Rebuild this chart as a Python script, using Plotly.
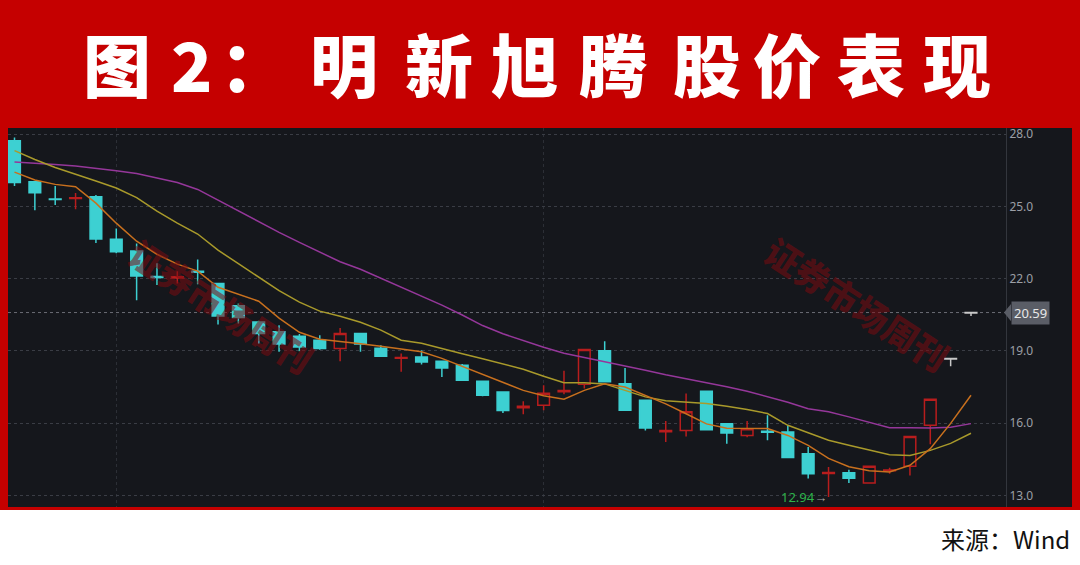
import plotly.graph_objects as go

# ---------------- data ----------------
opens = [27.72, 26.02, 25.30, 25.32, 25.40, 23.63, 23.15, 22.09, 22.02, 22.30,
         21.80, 20.87, 20.20, 19.79, 19.61, 19.44, 19.10, 19.72, 19.11, 18.69,
         18.75, 18.57, 18.40, 17.74, 17.29, 16.64, 16.74, 17.30, 17.61, 19.00,
         17.64, 16.95, 15.64, 15.70, 17.32, 15.98, 15.49, 15.66, 15.63, 14.73,
         13.91, 13.94, 13.52, 14.02, 14.21, 15.91, 18.66, 20.57]
highs = [27.86, 26.05, 25.84, 25.55, 25.47, 24.08, 23.46, 22.64, 22.30, 22.79,
         21.82, 20.97, 20.25, 20.06, 19.70, 19.65, 19.95, 19.75, 19.23, 18.89,
         19.03, 18.60, 18.45, 17.76, 17.30, 16.91, 17.57, 18.17, 19.06, 19.40,
         18.29, 16.97, 16.09, 17.23, 17.35, 16.00, 16.09, 16.33, 15.91, 15.01,
         14.18, 14.07, 14.21, 14.15, 15.45, 16.99, 18.68, 20.62]
lows = [25.84, 24.84, 25.05, 24.88, 23.48, 23.05, 21.10, 21.73, 21.80, 21.77,
        20.09, 20.14, 19.30, 18.96, 18.98, 19.05, 18.57, 18.96, 18.75, 18.13,
        18.43, 17.92, 17.75, 17.12, 16.42, 16.37, 16.54, 17.20, 17.44, 17.70,
        16.50, 15.70, 15.22, 15.45, 15.70, 15.15, 15.41, 15.29, 14.55, 13.70,
        12.94, 13.52, 13.52, 13.90, 13.83, 15.12, 18.36, 20.45]
closes = [25.99, 25.56, 25.28, 25.35, 23.64, 23.11, 22.11, 22.05, 22.08, 22.26,
          20.45, 20.38, 19.72, 19.28, 19.16, 19.10, 19.72, 19.28, 18.78, 18.73,
          18.54, 18.29, 17.78, 17.16, 16.53, 16.70, 17.24, 17.36, 19.06, 17.72,
          16.54, 15.80, 15.70, 16.47, 15.73, 15.59, 15.77, 15.62, 14.57, 13.90,
          13.95, 13.71, 14.21, 14.06, 15.45, 16.99, 18.68, 20.59]

ma_short = [26.42, 26.09, 25.91, 25.81, 25.13, 24.30, 23.55, 23.01, 22.60, 22.31,
            21.64, 21.35, 21.06, 20.36, 19.77, 19.48, 19.40, 19.30, 19.19, 19.09,
            18.96, 18.69, 18.36, 18.03, 17.68, 17.36, 17.14, 16.99, 17.36, 17.63,
            17.50, 17.16, 16.80, 16.39, 15.97, 15.79, 15.78, 15.78, 15.49, 15.08,
            14.54, 14.19, 14.02, 13.97, 14.25, 14.94, 15.99, 17.16]
ma_mid = [27.31, 26.94, 26.61, 26.34, 26.05, 25.76, 25.36, 24.80, 24.30, 23.85,
          23.18, 22.62, 22.06, 21.50, 21.02, 20.65, 20.44, 20.19, 19.86, 19.44,
          19.32, 19.09, 18.88, 18.67, 18.47, 18.24, 17.95, 17.68, 17.68, 17.63,
          17.36, 17.09, 16.93, 16.89, 16.82, 16.70, 16.57, 16.40, 15.91, 15.60,
          15.29, 15.08, 14.87, 14.69, 14.66, 14.87, 15.16, 15.58]
ma_long = [26.84, 26.77, 26.73, 26.67, 26.59, 26.48, 26.36, 26.19, 25.99, 25.70,
           25.25, 24.79, 24.37, 23.92, 23.50, 23.09, 22.70, 22.39, 22.02, 21.66,
           21.29, 20.90, 20.49, 20.05, 19.71, 19.42, 19.15, 18.90, 18.73, 18.55,
           18.36, 18.20, 18.01, 17.85, 17.68, 17.51, 17.32, 17.09, 16.87, 16.60,
           16.47, 16.26, 16.03, 15.81, 15.81, 15.80, 15.83, 15.98]

y_ticks = [13.0, 16.0, 19.0, 22.0, 25.0, 28.0]
last_price = 20.59
min_price = 12.94
min_index = 40
limit_days = [46, 47]          # last two sessions drawn in grey

TITLE = "图2：明新旭腾股价表现"
WATERMARK = "证券市场周刊"
SOURCE = "来源：Wind"

# ---------------- layout helpers ----------------
W, H = 1080, 565
PL, PR, PT, PB = 8, 1006, 128, 507
BG = "#15171C"
RED = "#C50000"
CJK = "Noto Sans CJK SC"


def px(x):
    return (x - PL) / (PR - PL)


def py(y):
    return (PB - y) / (PB - PT)


idx = list(range(len(opens)))
main_idx = [i for i in idx if i not in limit_days]

fig = go.Figure()

fig.add_trace(go.Candlestick(
    x=main_idx,
    open=[opens[i] for i in main_idx], high=[highs[i] for i in main_idx],
    low=[lows[i] for i in main_idx], close=[closes[i] for i in main_idx],
    increasing=dict(line=dict(color="#B81D1D", width=1.5), fillcolor=BG),
    decreasing=dict(line=dict(color="#3DD0D2", width=1.5), fillcolor="#3DD0D2"),
    hoverinfo="skip", showlegend=False))

fig.add_trace(go.Candlestick(
    x=limit_days,
    open=[opens[i] for i in limit_days], high=[highs[i] for i in limit_days],
    low=[lows[i] for i in limit_days], close=[closes[i] for i in limit_days],
    increasing=dict(line=dict(color="#C8C8C8", width=1.5), fillcolor="#C8C8C8"),
    decreasing=dict(line=dict(color="#C8C8C8", width=1.5), fillcolor="#C8C8C8"),
    hoverinfo="skip", showlegend=False))

for vals, col in [(ma_long, "#95379A"), (ma_mid, "#A99A2B"), (ma_short, "#C8701E")]:
    fig.add_trace(go.Scatter(x=idx, y=vals, mode="lines",
                             line=dict(color=col, width=1.5),
                             hoverinfo="skip", showlegend=False))

shapes = [
    dict(type="rect", xref="paper", yref="paper", x0=px(0), x1=px(W), y0=py(510), y1=py(0),
         fillcolor=RED, line=dict(width=0), layer="below"),
    dict(type="rect", xref="paper", yref="paper", x0=px(8), x1=px(1072), y0=py(507), y1=py(128),
         fillcolor=BG, line=dict(width=0), layer="below"),
    dict(type="line", xref="paper", yref="y", x0=0, x1=1, y0=last_price, y1=last_price,
         line=dict(color="#6A6D75", width=1, dash="dot"), layer="below"),
    dict(type="path", xref="paper", yref="y",
         path=f"M {px(1004)},{last_price} L {px(1011)},{last_price + 0.36} "
              f"L {px(1011)},{last_price - 0.36} Z",
         fillcolor="#5A5D66", line=dict(width=0)),
]

annotations = []
title_x = [117, 191, 254, 344, 439, 525, 613, 707, 787, 871, 957]
for ch, cx in zip(TITLE, title_x):
    annotations.append(dict(text=ch, xref="paper", yref="paper", x=px(cx), y=py(63),
                            xanchor="center", yanchor="middle", showarrow=False,
                            font=dict(family=CJK, size=68, color="white", weight=900)))

for cx, cy in [(222, 305), (858, 303)]:
    annotations.append(dict(text=WATERMARK, xref="paper", yref="paper", x=px(cx), y=py(cy),
                            xanchor="center", yanchor="middle", showarrow=False, textangle=33,
                            font=dict(family=CJK, size=35, color="rgba(125,10,16,0.55)",
                                      weight=900)))

annotations.append(dict(
    text=f"{last_price:.2f}", xref="paper", yref="y", x=px(1011), y=last_price,
    xanchor="left", yanchor="middle", showarrow=False, bgcolor="#5A5D66",
    borderpad=2, font=dict(family="Noto Sans", size=13, color="#E8E8E8")))

annotations.append(dict(
    text=f"<span style='color:#2DB34A'>{min_price:.2f}</span><span style='color:#A0A0A0'>→</span>",
    xref="x", yref="y", x=min_index, y=min_price, xanchor="right", yanchor="middle",
    showarrow=False, font=dict(family="Noto Sans", size=13)))

annotations.append(dict(text=SOURCE, xref="paper", yref="paper", x=px(1072), y=py(538),
                        xanchor="right", yanchor="middle", showarrow=False,
                        font=dict(family=CJK, size=24, color="#111111")))

fig.update_layout(
    width=W, height=H,
    margin=dict(l=PL, r=W - PR, t=PT, b=H - PB, pad=0),
    paper_bgcolor="white", plot_bgcolor="rgba(0,0,0,0)",
    boxgap=0.18,
    shapes=shapes, annotations=annotations,
    xaxis=dict(range=[-0.32, 48.72], tickvals=[5, 26], showticklabels=False,
               showgrid=True, gridcolor="#2C2F36", griddash="dot", gridwidth=1,
               zeroline=False, showline=False, ticks="", rangeslider=dict(visible=False),
               fixedrange=True),
    yaxis=dict(range=[12.52, 28.25], side="right", tickvals=y_ticks,
               ticktext=[f"{v:.1f}" for v in y_ticks],
               tickfont=dict(family="Noto Sans", size=12, color="#9C9FA6"),
               showgrid=True, gridcolor="#3A3D45", griddash="dot", gridwidth=1,
               zeroline=False, showline=True, linecolor="#33363D", linewidth=1,
               ticks="", fixedrange=True),
    showlegend=False,
)

fig.write_html(
    "out.html",
    config={"displayModeBar": False},
    post_script="document.body.style.margin='0';document.body.style.overflow='hidden';",
)
